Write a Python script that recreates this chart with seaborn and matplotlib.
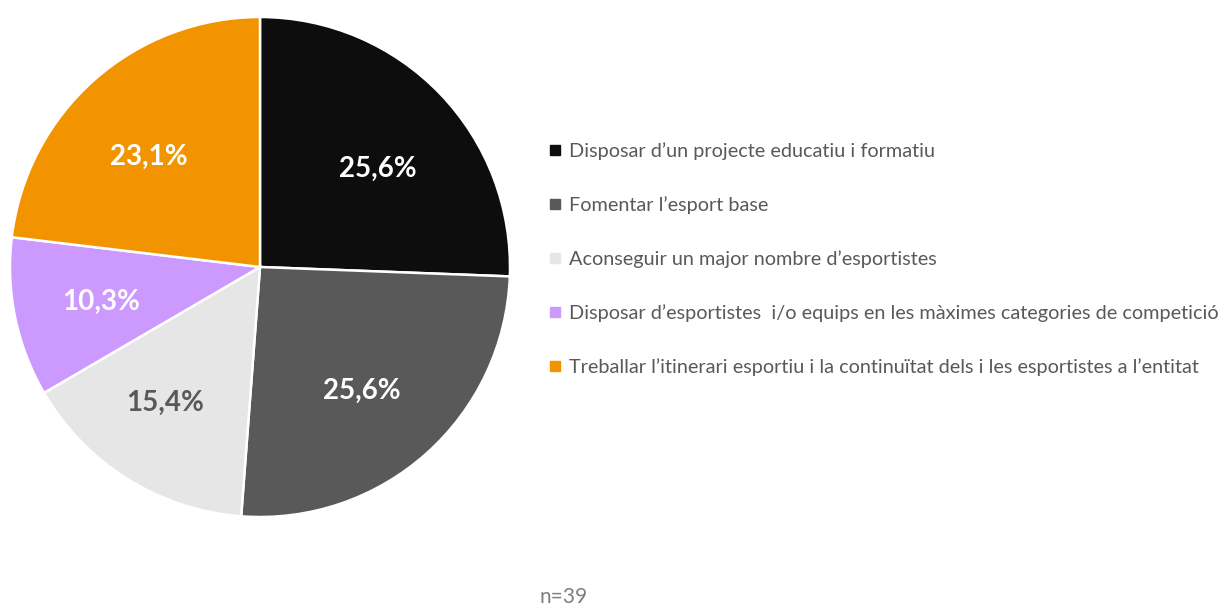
import numpy as np
from matplotlib import use
use('agg')
import matplotlib.pyplot as plt
from matplotlib.lines import Line2D
import seaborn as sns

# data
categories = [
    "Disposar d\u2019un projecte educatiu i formatiu",
    "Fomentar l\u2019esport base",
    "Aconseguir un major nombre d\u2019esportistes",
    "Disposar d\u2019esportistes  i/o equips en les m\u00e0ximes categories de competici\u00f3",
    "Treballar l\u2019itinerari esportiu i la continu\u00eftat dels i les esportistes a l\u2019entitat",
]
values = [25.6, 25.6, 15.4, 10.3, 23.1]
colors = ["#0d0d0d", "#595959", "#e6e6e6", "#cc99ff", "#f29400"]
label_colors = ["white", "white", "#595959", "white", "white"]
n_text = "n=39"

sns.set_theme(style="white")
plt.rcParams['font.family'] = ['Lato', 'DejaVu Sans']
pal = sns.color_palette(colors)

fig = plt.figure(figsize=(12.21, 6.06), dpi=100)
ax = fig.add_axes([10/1221, 89/606, 500/1221, 500/606])

wedges, texts, autotexts = ax.pie(
    values, colors=pal, startangle=90, counterclock=False,
    autopct=lambda p: f"{p:.1f}%".replace('.', ','), pctdistance=0.64,
    wedgeprops=dict(edgecolor='white', linewidth=1.8),
    textprops=dict(fontsize=20, fontweight='bold'))
# small nudges so the labels sit where Excel put them
nudges = [(0.01, -0.05), (-0.02, -0.02), (-0.04, 0.0), (-0.01, -0.01), (-0.02, -0.04)]
for t, c, (dx, dy) in zip(autotexts, label_colors, nudges):
    t.set_color(c)
    x, y = t.get_position()
    t.set_position((x + dx, y + dy))
ax.set_xlim(-1.0, 1.0)
ax.set_ylim(-1.0, 1.0)
ax.set_aspect('equal')

handles = [Line2D([], [], marker='s', linestyle='none', markersize=7,
                  markerfacecolor=c, markeredgecolor=c) for c in pal]
leg = fig.legend(handles, categories, loc='center left',
                 bbox_to_anchor=(541/1221, 1 - 259/606), frameon=False,
                 fontsize=14.3, labelspacing=1.82, handlelength=0.6,
                 handletextpad=0.4, borderaxespad=0)
for t in leg.get_texts():
    t.set_color('#595959')

fig.text(564/1221, 9/606, n_text, ha='center', va='center',
         fontsize=15, color='#7f7f7f')

plt.savefig("out.png", dpi=100)
